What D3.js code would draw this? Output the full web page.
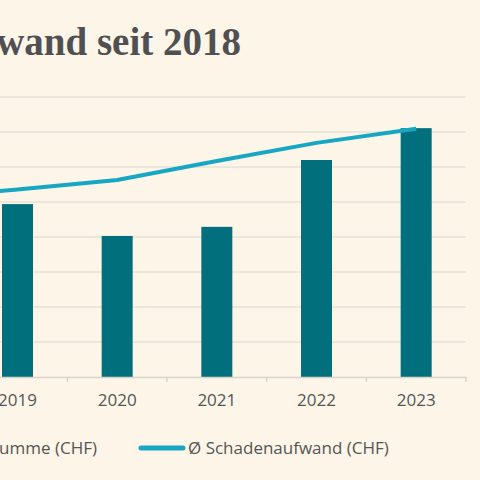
<!DOCTYPE html>
<html lang="en">
<head>
<meta charset="UTF-8">
<style>
  body { margin: 0; background: #fcf5e8; }
  svg { background-color: #fcf5e8; display: block; }
  .title { font-family: "Liberation Serif", serif; font-weight: bold; font-size: 39px; fill: #505052; }
  .tick text, .legend { font-family: "Open Sans", sans-serif; font-size: 17px; fill: #555; }
</style>
</head>
<body>
<script src="https://d3js.org/d3.v7.min.js"></script>
<svg></svg>
<script>
// data
const years = ["2018", "2019", "2020", "2021", "2022", "2023"];
const sumValues = [5.0, 4.94, 4.03, 4.29, 6.2, 7.11];     // bars
const avgValues = [5.1, 5.36, 5.63, 6.17, 6.69, 7.09];     // line
const yTicks = [0, 1, 2, 3, 4, 5, 6, 7, 8];

const w = 480, h = 480;
const svg = d3.select("svg").attr("width", w).attr("height", h);

const xScale = d3.scaleBand().domain(years).range([-132, 466]).padding(0);
const yScale = d3.scaleLinear().domain([0, 8]).range([377, 97]);
const barW = 31;

// title (cropped on the left like the reference)
svg.append("text").attr("class", "title")
   .attr("x", 241).attr("y", 55).attr("text-anchor", "end")
   .text("Versicherungssumme und Schadenaufwand seit 2018");

// gridlines
svg.append("g").selectAll("line").data(yTicks.slice(1)).enter().append("line")
   .attr("x1", -132).attr("x2", 466)
   .attr("y1", d => yScale(d)).attr("y2", d => yScale(d))
   .attr("stroke", "#dcd8d0").attr("stroke-width", 1);

// bars
svg.append("g").selectAll("rect").data(sumValues).enter().append("rect")
   .attr("x", (d, i) => xScale(years[i]) + xScale.bandwidth() / 2 - barW / 2)
   .attr("y", d => yScale(d))
   .attr("width", barW)
   .attr("height", d => yScale(0) - yScale(d))
   .attr("fill", "#026f7c");

// x axis
const xAxis = svg.append("g").attr("transform", `translate(0, ${yScale(0)})`)
   .call(d3.axisBottom(xScale).tickSize(0).tickPadding(17));
xAxis.select(".domain").attr("stroke", "#d8d4cc").attr("stroke-width", 1.5);
xAxis.selectAll(".tick text").style("font-size", "17px").style("fill", "#555")
   .style("font-family", "'Open Sans', sans-serif");
// boundary ticks
svg.append("g").selectAll("line").data(years).enter().append("line")
   .attr("x1", d => xScale(d) + xScale.bandwidth()).attr("x2", d => xScale(d) + xScale.bandwidth())
   .attr("y1", yScale(0)).attr("y2", yScale(0) + 5)
   .attr("stroke", "#d8d4cc").attr("stroke-width", 1.5);

// line
const line = d3.line()
   .x((d, i) => xScale(years[i]) + xScale.bandwidth() / 2)
   .y(d => yScale(d));
svg.append("path").datum(avgValues)
   .attr("d", line).attr("fill", "none")
   .attr("stroke", "#17a7c3").attr("stroke-width", 4);

// legend
svg.append("text").attr("class", "legend")
   .attr("x", 97).attr("y", 454).attr("text-anchor", "end")
   .text("Versicherungssumme (CHF)");
svg.append("line").attr("x1", 141).attr("x2", 183).attr("y1", 448).attr("y2", 448)
   .attr("stroke", "#17a7c3").attr("stroke-width", 5).attr("stroke-linecap", "round");
svg.append("text").attr("class", "legend")
   .attr("x", 188).attr("y", 454)
   .text("Ø Schadenaufwand (CHF)");
</script>
</body>
</html>
